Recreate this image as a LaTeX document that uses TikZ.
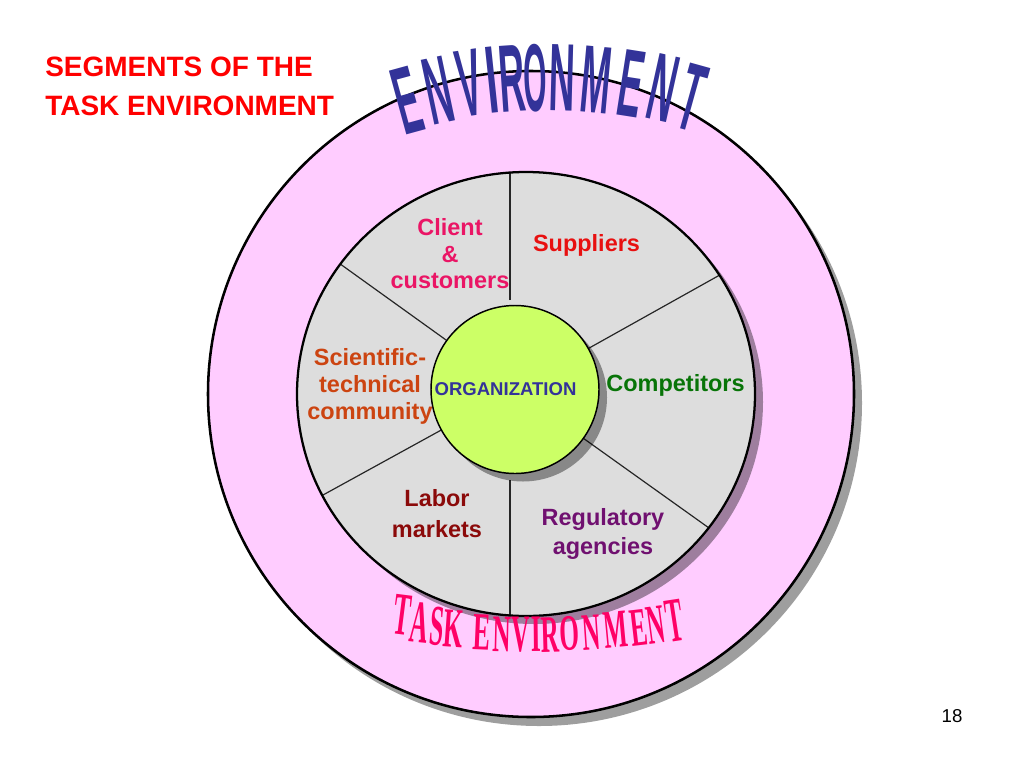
\documentclass[tikz,border=0pt]{standalone}
\usepackage{fontspec}
\setmainfont{Liberation Sans}
\newfontfamily\serifw{Liberation Serif}
\usetikzlibrary{calc}
\definecolor{pinkbg}{HTML}{FFCCFF}
\definecolor{graybg}{HTML}{DDDDDD}
\definecolor{orgfill}{HTML}{CCFF66}
\definecolor{envblue}{HTML}{333399}
\definecolor{taskpink}{HTML}{FF0066}
\definecolor{titlered}{HTML}{FF0000}
\definecolor{clientc}{HTML}{EA1565}
\definecolor{supc}{HTML}{E81010}
\definecolor{scic}{HTML}{CC4411}
\definecolor{compc}{HTML}{087408}
\definecolor{laborc}{HTML}{8B0A0A}
\definecolor{regc}{HTML}{701070}
\newcommand\myenvfont{\fontsize{32pt}{32pt}\selectfont\bfseries}
\newcommand\mytaskfont{\fontsize{20.6pt}{20.6pt}\selectfont\serifw\bfseries}
\newcommand\EL[1]{\scalebox{0.84}[2.25]{#1}}
\begin{document}
\begin{tikzpicture}[x=0.75pt,y=-0.75pt,
  shadowfill/.style={fill=black, opacity=0.38},
  lab/.style={inner sep=0pt, align=center},
  envl/.style={inner sep=0pt, text=envblue, font=\myenvfont},
  taskl/.style={inner sep=0pt, text=taskpink, font=\mytaskfont},
  spoke/.style={draw=black!85, line width=0.9pt}]
\fill[white] (0,0) rectangle (1024,768);
\useasboundingbox (0,0) rectangle (1024,768);

% centres
\coordinate (oc) at (531,394);
\coordinate (gc) at (526,394);
\coordinate (rc) at (515,389.5);

% outer environment circle
\fill[shadowfill] ($(oc)+(8,9)$) circle [radius=323];
\draw[fill=pinkbg, line width=1.9pt] (oc) circle [radius=323];

% task environment disc
\fill[shadowfill] ($(gc)+(8,8)$) ellipse [x radius=229, y radius=222];
\fill[graybg] (gc) ellipse [x radius=229, y radius=222];

% spokes
\coordinate (p1) at (343,266);
\coordinate (p2) at (718,276);
\coordinate (p3) at (323,495);
\coordinate (p4) at (709,528);
\coordinate (vt) at (510,150);
\coordinate (vb) at (510,640);
\coordinate (vc1) at (510,300);
\coordinate (vc2) at (510,480);
\begin{scope}
\clip (gc) ellipse [x radius=229, y radius=222];
\draw[spoke] (rc) -- ($(rc)!1.3!(p1)$);
\draw[spoke] (rc) -- ($(rc)!1.3!(p2)$);
\draw[spoke] (rc) -- ($(rc)!1.3!(p3)$);
\draw[spoke] (rc) -- ($(rc)!1.3!(p4)$);
\draw[spoke] (vc1) -- (vt);
\draw[spoke] (vc2) -- (vb);
\end{scope}
\draw[line width=1.7pt] (gc) ellipse [x radius=229, y radius=222];

% organization circle
\fill[shadowfill] ($(rc)+(8,8)$) circle [radius=84];
\draw[fill=orgfill, line width=1.1pt] (rc) circle [radius=84];

% labels
\node[lab, anchor=base, text=envblue, font=\fontsize{13.9pt}{16pt}\selectfont\bfseries] (org) at (505.5,395) {ORGANIZATION};
\node[lab, anchor=north, text=clientc, font=\fontsize{17.6pt}{19.9pt}\selectfont\bfseries] (client) at (450,218.5) {Client\\\&\\customers};
\node[lab, anchor=base, text=supc, font=\fontsize{17.6pt}{19.9pt}\selectfont\bfseries] (sup) at (586.5,251) {Suppliers};
\node[lab, anchor=north, text=scic, font=\fontsize{17.6pt}{20.25pt}\selectfont\bfseries] (sci) at (370,348.5) {Scientific-\\technical\\community};
\node[lab, anchor=base, text=compc, font=\fontsize{17.6pt}{19.9pt}\selectfont\bfseries] (comp) at (675.5,391) {Competitors};
\node[lab, anchor=north, text=laborc, font=\fontsize{17.6pt}{22.9pt}\selectfont\bfseries] (labor) at (437,489.5) {Labor\\markets};
\node[lab, anchor=north, text=regc, font=\fontsize{17.6pt}{21.75pt}\selectfont\bfseries] (reg) at (603,508) {Regulatory\\agencies};

% ENVIRONMENT word art (arch up)
\node[envl, rotate=15.3] (e1) at (407,100) {\EL{E}};
\node[envl, rotate=11.9] (e2) at (438,91) {\EL{N}};
\node[envl, rotate=8.3] (e3) at (470,83) {\EL{V}};
\node[envl, rotate=6.0] (e4) at (492,80) {\scalebox{1}[2.25]{I}};
\node[envl, rotate=3.9] (e5) at (512,79) {\EL{R}};
\node[envl, rotate=1.4] (e6) at (535,78) {\scalebox{0.7}[2.25]{O}};
\node[envl, rotate=-1.5] (e7) at (562,78) {\EL{N}};
\node[envl, rotate=-5.2] (e8) at (596,79.5) {\EL{M}};
\node[envl, rotate=-8.9] (e9) at (631,83.5) {\EL{E}};
\node[envl, rotate=-12.5] (e10) at (663,88.5) {\EL{N}};
\node[envl, rotate=-15.5] (e11) at (692,97.5) {\EL{T}};

% TASK ENVIRONMENT word art (arch down)
\node[taskl, rotate=-7.2] (t1) at (402,615) {\scalebox{0.92}[2.2]{T}};
\node[taskl, rotate=-6.0] (t2) at (420,623) {\scalebox{0.92}[2.2]{A}};
\node[taskl, rotate=-5.0] (t3) at (437,626) {\scalebox{0.92}[2.1]{S}};
\node[taskl, rotate=-4.0] (t4) at (454,629) {\scalebox{0.92}[2.05]{K}};
\node[taskl, rotate=-2.5] (t5) at (482,632.5) {\scalebox{0.95}[1.95]{E}};
\node[taskl, rotate=-1.3] (t6) at (502,634.5) {\scalebox{0.92}[1.92]{N}};
\node[taskl, rotate=-0.3] (t7) at (521,634.5) {\scalebox{0.92}[1.92]{V}};
\node[taskl, rotate=0.6] (t8) at (536,634.5) {\scalebox{0.92}[1.92]{I}};
\node[taskl, rotate=1.5] (t9) at (550,634.5) {\scalebox{0.92}[1.92]{R}};
\node[taskl, rotate=2.6] (t10) at (570,633.5) {\scalebox{0.92}[1.85]{O}};
\node[taskl, rotate=3.9] (t11) at (591,632.5) {\scalebox{0.92}[1.92]{N}};
\node[taskl, rotate=5.3] (t12) at (616,630) {\scalebox{0.92}[1.98]{M}};
\node[taskl, rotate=6.6] (t13) at (639,627.5) {\scalebox{0.92}[1.98]{E}};
\node[taskl, rotate=7.6] (t14) at (656,625) {\scalebox{0.9}[2.05]{N}};
\node[taskl, rotate=8.7] (t15) at (675,621) {\scalebox{0.92}[2.3]{T}};

% title and page number
\node[inner sep=0pt, anchor=north west, align=left, text=titlered, font=\fontsize{21pt}{29.25pt}\selectfont\bfseries] (title) at (45,56.5) {SEGMENTS OF THE\\TASK ENVIRONMENT};
\node[inner sep=0pt, anchor=base, font=\fontsize{14pt}{16pt}\selectfont] (page) at (952,722) {18};
\end{tikzpicture}
\end{document}
